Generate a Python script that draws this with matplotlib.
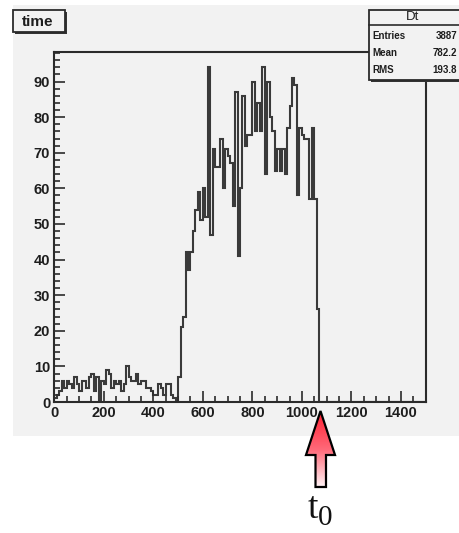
import numpy as np
import matplotlib.pyplot as plt
from matplotlib.patches import Rectangle, Polygon
from matplotlib.colors import LinearSegmentedColormap

W, H = 459, 533  # taille de l'image en pixels

# histogramme "Dt" : bins de 10, de 0 a 1500
bin_width = 10
x_min, x_max = 0, 1500
low_counts = [1, 2, 3, 6, 4, 6, 5, 4, 7, 5,
              3, 6, 6, 4, 7, 8, 3, 7, 0, 6,
              5, 9, 8, 4, 6, 5, 6, 3, 5, 10,
              7, 6, 6, 8, 5, 6, 6, 4, 4, 3,
              2, 2, 5, 4, 2, 5, 5, 2, 1, 0]          # 0 -> 490
main_counts = [7, 21, 24, 42, 37, 42, 48, 54, 59, 51,
               60, 52, 94, 47, 71, 66, 66, 74, 60, 71,
               69, 67, 55, 87, 41, 60, 86, 72, 75, 75,
               90, 76, 84, 76, 94, 64, 90, 80, 76, 65,
               71, 65, 71, 64, 77, 83, 91, 89, 58, 77,
               75, 74, 74, 57, 77, 57, 26]           # 500 -> 1060

stat_names = ['Entries', 'Mean', 'RMS']
stat_values = ['3887', '782.2', '193.8']
x_ticks = [0, 200, 400, 600, 800, 1000, 1200, 1400]
y_ticks = [0, 10, 20, 30, 40, 50, 60, 70, 80, 90]
y_top = 98.3

edges = np.arange(x_min, x_max + bin_width, bin_width)
counts = np.zeros(len(edges) - 1)
counts[:len(low_counts)] = low_counts
counts[len(low_counts):len(low_counts) + len(main_counts)] = main_counts

bg = '#f2f2f2'
ink = '#2b2b2b'

fig = plt.figure(figsize=(W / 100, H / 100), dpi=100, facecolor='white')

# fond gris du pad
fig.add_artist(Rectangle((13 / W, 1 - 436 / H), (W - 13) / W, 431 / H,
                         transform=fig.transFigure, facecolor=bg,
                         edgecolor='none', zorder=-1))

ax = fig.add_axes([54.3 / W, 1 - 402 / H, (425.7 - 54.3) / W, 350 / H])
ax.set_facecolor(bg)
ax.stairs(counts, edges, color='#3a3a3a', linewidth=1.5)
ax.set_xlim(x_min, x_max)
ax.set_ylim(0, y_top)
ax.set_xticks(x_ticks)
ax.set_yticks(y_ticks)
ax.set_xticks(np.arange(0, 1501, 50), minor=True)
ax.set_yticks(np.arange(0, 99, 2), minor=True)
ax.tick_params(which='both', direction='in', color=ink, width=1.2,
               top=False, right=False)
ax.tick_params(which='major', length=8, pad=3)
ax.tick_params(which='minor', length=4)
for lab in ax.get_xticklabels() + ax.get_yticklabels():
    lab.set_fontfamily('Liberation Sans')
    lab.set_fontweight('bold')
    lab.set_fontsize(10.5)
    lab.set_color('#1e1e1e')
for sp in ax.spines.values():
    sp.set_linewidth(1.5)
    sp.set_color(ink)

# calque en pixels pour les boites, la fleche et t0
ov = fig.add_axes([0, 0, 1, 1], zorder=5)
ov.set_autoscale_on(False)
ov.set_xlim(0, W)
ov.set_ylim(H, 0)
ov.axis('off')

# boite "time"
ov.add_patch(Rectangle((15, 12), 52, 22, facecolor='#333333', edgecolor='none'))
ov.add_patch(Rectangle((13, 10), 52, 22, facecolor=bg, edgecolor=ink, lw=1.3))
ov.text(38, 21.5, 'time', ha='center', va='center', fontsize=11,
        fontweight='bold', family='Liberation Sans', color='#1e1e1e')

# boite de stats
ov.add_patch(Rectangle((371, 12), 95, 70, facecolor='#333333', edgecolor='none'))
ov.add_patch(Rectangle((369, 10), 95, 70, facecolor=bg, edgecolor=ink, lw=1.3))
ov.plot([369, W], [25, 25], color=ink, lw=1.2)
ov.text(413, 17.5, 'Dt', ha='center', va='center', fontsize=9.5,
        family='Liberation Sans', color='#1e1e1e')
for i, (n, v) in enumerate(zip(stat_names, stat_values)):
    yy = 36 + 17 * i
    ov.text(372, yy, n, ha='left', va='center', fontsize=7,
            fontweight='bold', family='Liberation Sans', color='#1e1e1e')
    ov.text(457, yy, v, ha='right', va='center', fontsize=7,
            fontweight='bold', family='Liberation Sans', color='#1e1e1e')

# fleche rouge
arrow = Polygon([(320.5, 411), (335, 455), (326, 455), (326, 487),
                 (315.5, 487), (315.5, 455), (306, 455)], closed=True,
                facecolor='none', edgecolor='black', lw=1.6, zorder=7)
ov.add_patch(arrow)
cmap = LinearSegmentedColormap.from_list('rouge', ['#ff2234', '#ff6878', '#fff2f4'])
grad = np.linspace(0, 1, 100).reshape(-1, 1)
im = ov.imshow(grad, extent=(306, 335, 487, 411), cmap=cmap, aspect='auto',
               zorder=6, interpolation='bilinear')
im.set_clip_path(arrow)
ov.set_xlim(0, W)
ov.set_ylim(H, 0)

ov.text(318, 518, 't', ha='right', va='baseline', fontsize=27,
        family='Liberation Serif', color='#111111')
ov.text(318, 525, '0', ha='left', va='baseline', fontsize=21,
        family='Liberation Serif', color='#111111')

fig.savefig('out.png', dpi=100, facecolor='white')
